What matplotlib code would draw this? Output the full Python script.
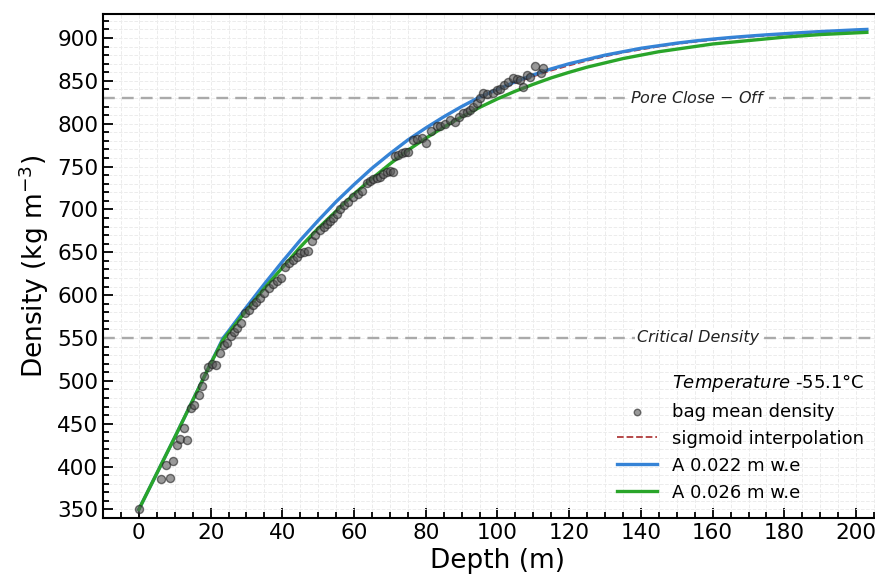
import matplotlib
matplotlib.use('Agg')
import matplotlib.pyplot as plt
from matplotlib.ticker import MultipleLocator

# bag samples
bag_depth = [0, 6.3, 7.5, 8.6, 9.4, 10.5, 11.5, 12.6, 13.5, 14.5, 15.4, 16.7, 17.5, 18.3,
             19.4, 20.3, 21.4, 22.5, 23.7, 24.7, 25.6, 26.6, 27.5, 28.4, 29.6, 30.7, 31.7,
             32.7, 33.8, 34.9, 36.2, 37.3, 38.4, 39.5, 40.8, 42.0, 43.0, 44.0, 44.9, 46.0,
             47.2, 48.2, 49.1, 50.5, 51.5, 52.4, 53.3, 54.2, 55.2, 56.1, 57.2, 58.4, 59.8,
             61.0, 62.1, 63.5, 64.5, 65.4, 66.3, 67.2, 68.2, 69.1, 70.0, 70.9, 71.4, 72.3,
             73.3, 74.2, 75.1, 76.5, 77.6, 78.9, 80.1, 81.6, 83.0, 84.0, 85.3, 86.7, 88.1,
             89.2, 90.5, 91.4, 92.3, 93.2, 94.2, 95.1, 96.0, 97.0, 98.8, 99.8, 100.7, 101.8,
             103.0, 104.4, 105.5, 106.3, 107.2, 108.1, 109.1, 110.5, 112.0, 112.8]
bag_density = [351, 386, 402, 387, 406, 425, 432, 445, 431, 468, 472, 483, 494, 506,
               516, 520, 519, 532, 542, 544, 552, 557, 562, 567, 579, 583, 588,
               592, 597, 602, 608, 613, 617, 620, 633, 637, 641, 645, 649, 650,
               652, 663, 670, 676, 679, 683, 687, 690, 695, 700, 705, 709, 715,
               718, 721, 731, 733, 735, 737, 738, 741, 744, 745, 744, 762, 764,
               766, 767, 767, 781, 782, 783, 777, 791, 797, 797, 800, 804, 802,
               808, 812, 814, 816, 819, 824, 830, 836, 835, 836, 839, 841, 845,
               849, 853, 852, 851, 843, 857, 855, 867, 859, 865]

# model curves
model_depth = [0, 5, 10, 15, 20, 23.5, 25, 30, 35, 40, 45, 50, 55, 60, 65, 70, 75, 80, 85,
               90, 95, 100, 105, 110, 115, 120, 125, 130, 135, 140, 145, 150, 155, 160,
               165, 170, 175, 180, 185, 190, 195, 200, 203]
rho_a022 = [350, 392, 434, 477, 520, 550, 558, 586, 613, 639, 664, 687, 709, 729, 748, 765,
            781, 795, 808, 820, 831, 840, 849, 857, 864, 870, 875, 880, 884, 888, 891, 894,
            896.5, 898.7, 900.6, 902.2, 903.7, 905.0, 906.3, 907.5, 908.5, 909.5, 910]
rho_a026 = [350, 392, 434, 477, 520, 548, 556, 582, 608, 632, 656, 678, 698, 718, 736, 753,
            769, 783, 796, 808, 819, 829, 838, 846, 853.5, 860, 866, 871, 876, 880, 884, 887,
            890, 893, 895, 897, 899, 901, 902.5, 904, 905, 906, 906.6]
rho_sigmoid = [350, 392, 434, 477, 520, 550, 558, 586, 613, 639, 664, 687, 709, 729, 748, 765,
               781, 795, 808, 820, 830.5, 839.3, 847.5, 855.2, 862, 868, 873.5, 878.5, 883, 886.5,
               890, 893, 895.5, 897.7, 899.6, 901.3, 902.8, 904.2, 905.5, 906.7, 907.8, 908.8, 909.5]

pore_close_off = 830
critical_density = 550

fig = plt.figure(figsize=(8.75, 5.83), dpi=100)
ax = fig.add_axes([0.1177, 0.1115, 0.9017, 0.8645])

ax.axhline(pore_close_off, color='#aaaaaa', ls='--', lw=1.7, dashes=(5, 3), zorder=2)
ax.axhline(critical_density, color='#aaaaaa', ls='--', lw=1.7, dashes=(5, 3), zorder=2)
ax.text(156, pore_close_off, r'$\it{Pore\ Close}$ $-$ $\it{Off}$', fontsize=11.5,
        ha='center', va='center', color='#222222',
        bbox=dict(facecolor='white', edgecolor='none', pad=2), zorder=2.5)
ax.text(156, critical_density, 'Critical Density', fontsize=11.5, style='italic',
        ha='center', va='center', color='#222222',
        bbox=dict(facecolor='white', edgecolor='none', pad=2), zorder=2.5)

ax.plot([], [], ' ', label=r'$\it{Temperature}$ -55.1°C')
ax.scatter(bag_depth, bag_density, s=34, facecolor='#555555', edgecolor='#222222',
           alpha=0.6, linewidth=1.0, zorder=4, label='bag mean density')
ax.plot(model_depth, rho_sigmoid, color='#b03a3a', ls='--', lw=1.3, zorder=3,
        label='sigmoid interpolation')
ax.plot(model_depth, rho_a022, color='#3583d6', lw=2.4, zorder=3.4, label='A 0.022 m w.e')
ax.plot(model_depth, rho_a026, color='#2aa52a', lw=2.4, zorder=3.5, label='A 0.026 m w.e')

ax.set_xlim(-10, 210)
ax.set_ylim(340, 928)
ax.xaxis.set_major_locator(MultipleLocator(20))
ax.xaxis.set_minor_locator(MultipleLocator(5))
ax.yaxis.set_major_locator(MultipleLocator(50))
ax.yaxis.set_minor_locator(MultipleLocator(10))
ax.tick_params(which='both', direction='in', width=1.3, labelsize=15.5)
ax.tick_params(which='major', length=7)
ax.tick_params(which='minor', length=4)
ax.grid(which='both', color='#ececec', ls='--', lw=0.7)
for s in ax.spines.values():
    s.set_linewidth(1.5)

ax.set_xlabel('Depth (m)', fontsize=19)
ax.set_ylabel(r'Density (kg m$^{-3}$)', fontsize=19)

leg = ax.legend(loc='lower right', bbox_to_anchor=(0.985, 0.0), frameon=False,
                fontsize=13, handlelength=2.2, labelspacing=0.5, markerscale=0.8)

fig.savefig('out.png', dpi=100)
